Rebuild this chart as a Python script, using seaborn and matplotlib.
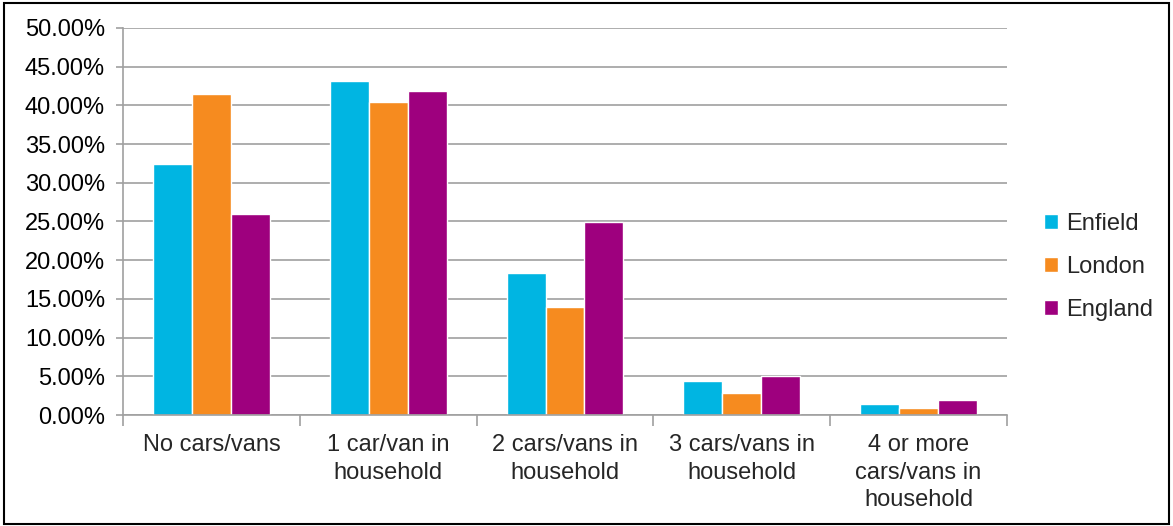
import seaborn as sns
import matplotlib.pyplot as plt
import pandas as pd
from matplotlib.patches import Rectangle
from matplotlib.ticker import PercentFormatter, FixedLocator

categories = ['No cars/vans', '1 car/van in\nhousehold', '2 cars/vans in\nhousehold',
              '3 cars/vans in\nhousehold', '4 or more\ncars/vans in\nhousehold']
enfield = [32.4, 43.2, 18.3, 4.4, 1.4]
london = [41.5, 40.5, 14.0, 2.8, 0.9]
england = [26.0, 41.9, 24.9, 5.0, 1.9]
areas = ['Enfield', 'London', 'England']
colors = ['#00B5E2', '#F68B1F', '#9E007E']

df = pd.DataFrame({
    'category': categories * 3,
    'value': enfield + london + england,
    'area': [a for a in areas for _ in categories],
})

sns.set_style('white')
plt.rcParams['font.family'] = ['Liberation Sans', 'DejaVu Sans']

fig = plt.figure(figsize=(11.73, 5.26), dpi=100)
ax = fig.add_axes([0.1049, 0.211, 0.7536, 0.7358])

sns.barplot(data=df, x='category', y='value', hue='area', palette=colors,
            width=0.66, saturation=1, ax=ax)

ax.set_ylim(0, 50)
ax.set_xlim(-0.5, 4.5)
ax.yaxis.set_major_locator(FixedLocator([i * 5 for i in range(11)]))
ax.yaxis.set_major_formatter(PercentFormatter(decimals=2))
ax.grid(axis='y', color='#A0A0A0', linewidth=1.2)
ax.set_axisbelow(True)
ax.set_xlabel('')
ax.set_ylabel('')

for s in ['top', 'right']:
    ax.spines[s].set_visible(False)
for s in ['left', 'bottom']:
    ax.spines[s].set_color('#A0A0A0')
    ax.spines[s].set_linewidth(1.2)

ax.tick_params(axis='y', which='major', length=5, color='#A0A0A0', width=1.2,
               labelsize=17, labelcolor='black', left=True, pad=8)
ax.tick_params(axis='x', which='major', length=0, labelsize=17, pad=14)
ax.set_xticks(range(len(categories)))
ax.set_xticklabels(categories, linespacing=1.3)
ax.set_xticks([i - 0.5 for i in range(6)], minor=True)
ax.tick_params(axis='x', which='minor', length=8, color='#A0A0A0', width=1.2, bottom=True)
ax.tick_params(axis='x', which='major', bottom=False)

ax.legend(loc='center left', bbox_to_anchor=(1044 / 1173, 1 - 267 / 526),
          bbox_transform=fig.transFigure, frameon=False, fontsize=17,
          handlelength=0.6, handleheight=0.6, handletextpad=0.35, labelspacing=0.9,
          borderpad=0, borderaxespad=0)

fig.patches.append(Rectangle((0.003, 0.004), 0.994, 0.99, transform=fig.transFigure,
                             fill=False, edgecolor='black', linewidth=1.5))

fig.savefig('out.png', dpi=100)
